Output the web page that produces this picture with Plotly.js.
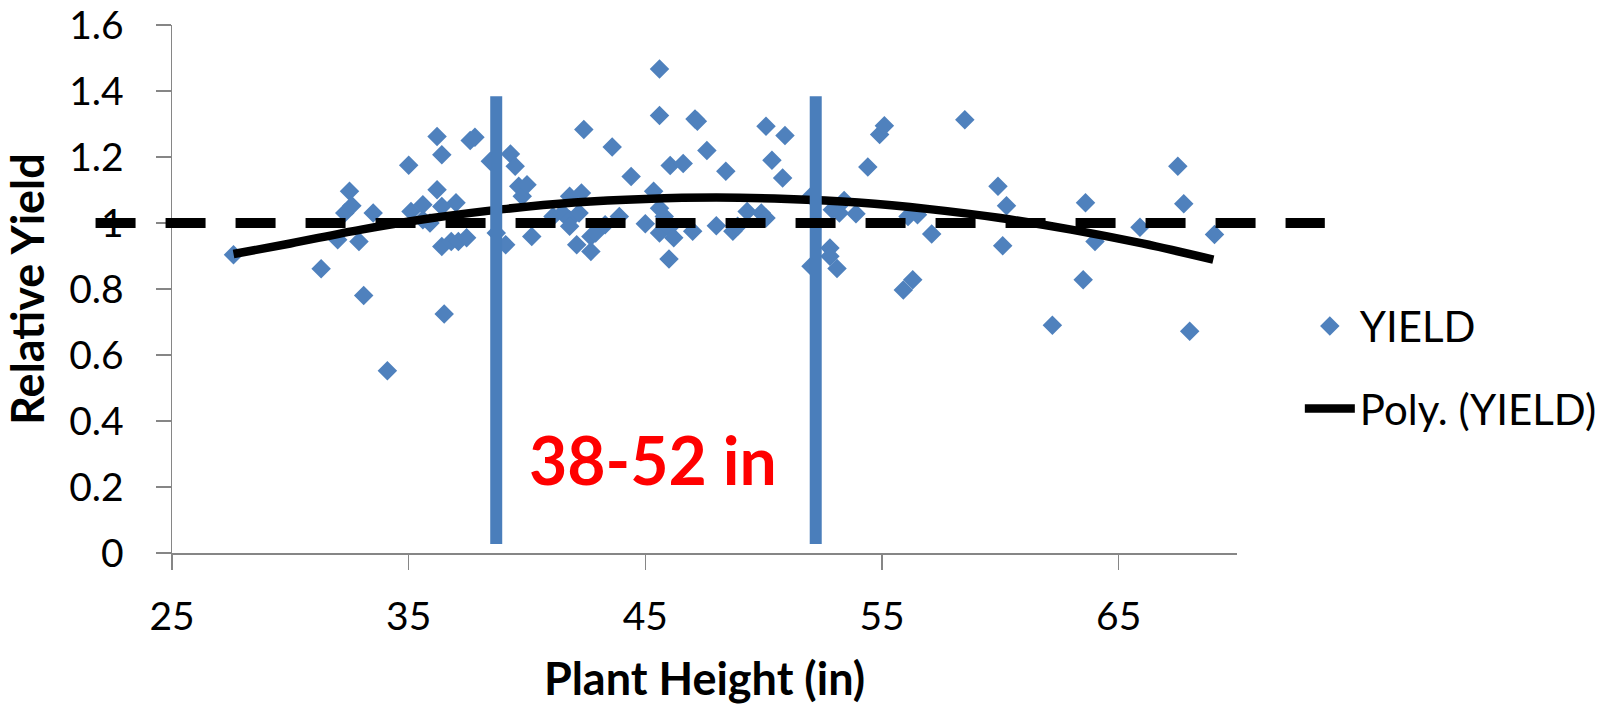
<!DOCTYPE html>
<html>
<head>
<meta charset="utf-8">
<script src="https://cdn.plot.ly/plotly-3.0.1.min.js"></script>
<style>
  html, body { margin: 0; padding: 0; background: #ffffff; }
  #chart { width: 1616px; height: 706px; }
</style>
</head>
<body>
<div id="chart"></div>
<script>
// Plant height (in) of each observation
const heightX = [
  27.6, 31.3, 32.0, 32.3, 32.5, 32.6, 32.9, 33.1, 33.5, 34.1,
  35.0, 35.1, 35.6, 35.6, 35.9, 36.2, 36.4, 36.2, 36.4, 36.4,
  36.5, 36.8, 37.0, 37.1, 37.45, 37.6, 37.8, 38.45, 38.7, 39.1,
  39.3, 39.5, 39.65, 39.8, 40.0, 40.2, 41.1, 41.5, 41.8, 41.8,
  41.8, 42.1, 42.2, 42.3, 42.4, 42.7, 42.7, 42.9, 43.3, 43.6,
  43.9, 44.4, 45.0, 45.35, 45.6, 45.6, 45.6, 45.6, 45.8, 46.0,
  46.0, 46.05, 46.2, 46.6, 47.0, 47.1, 47.2, 47.6, 48.0, 48.4,
  48.7, 48.9, 49.3, 49.9, 50.1, 50.1, 50.35, 50.8, 50.9, 52.0,
  52.0, 52.8, 52.8, 53.1, 52.9, 53.2, 53.4, 53.9, 54.4, 54.9,
  55.1, 55.9, 56.3, 56.1, 56.5, 57.1, 58.5, 59.9, 60.1, 60.26,
  62.2, 63.5, 63.6, 64.0, 65.9, 67.5, 67.75, 68.0, 69.05
];
// Relative yield of each observation
const yieldY = [
  0.904, 0.861, 0.949, 1.030, 1.096, 1.052, 0.944, 0.780, 1.030, 0.552,
  1.175, 1.035, 1.055, 1.010, 1.000, 1.262, 1.207, 1.101, 1.050, 0.929,
  0.724, 0.944, 1.061, 0.944, 0.955, 1.250, 1.260, 1.187, 0.970, 0.934,
  1.209, 1.172, 1.111, 1.081, 1.116, 0.959, 1.020, 1.030, 1.081, 1.010,
  0.990, 0.934, 1.030, 1.091, 1.283, 0.914, 0.959, 0.970, 0.995, 1.230,
  1.020, 1.141, 0.998, 1.096, 1.467, 1.326, 1.045, 0.970, 1.020, 0.985,
  0.891, 1.174, 0.955, 1.180, 0.975, 1.315, 1.308, 1.220, 0.992, 1.157,
  0.975, 0.990, 1.035, 1.030, 1.015, 1.293, 1.190, 1.136, 1.265, 1.081,
  0.869, 0.924, 0.899, 0.862, 1.040, 1.030, 1.068, 1.028, 1.170, 1.268,
  1.295, 0.797, 0.828, 1.020, 1.025, 0.967, 1.313, 1.111, 0.931, 1.052,
  0.690, 0.828, 1.061, 0.944, 0.987, 1.172, 1.058, 0.672, 0.965
];
// Polynomial trend line
const trendX = [27.6, 30, 33, 36, 39, 42, 45, 48, 51, 54, 57, 60, 63, 66, 69];
const trendY = [0.906, 0.938, 0.980, 1.015, 1.042, 1.062, 1.073, 1.077, 1.073, 1.062, 1.042, 1.015, 0.980, 0.938, 0.889];
// Range markers (in) and their vertical extent
const rangeLinesX = [38.7, 52.2];
const rangeLinesY = [0.027, 1.384];
// Reference level (relative yield = 1) and its horizontal extent in data units
const refLevel = 1;
const refLineX = [21.77, 73.71];
// Axis ranges and ticks
const xRange = [25, 70];
const yRange = [0, 1.6];
const xTickStart = 25, xTickStep = 10;
const yTickStep = 0.2;
const seriesName = 'YIELD';
const trendName = 'Poly. (YIELD)';
const rangeLabel = '38-52 in';
const rangeLabelPos = [45.33, 0.282];

const toPaperX = v => (v - xRange[0]) / (xRange[1] - xRange[0]);

const axisGray = '#868686';
const blue = '#4F81BD';
const font = 'Lato, "Open Sans", sans-serif';

const traces = [
  {
    x: heightX, y: yieldY, name: seriesName, type: 'scatter', mode: 'markers',
    marker: { symbol: 'diamond', size: 15, color: blue, line: { width: 0 } },
    legendgroup: 'a', hoverinfo: 'x+y'
  },
  {
    x: trendX, y: trendY, name: trendName, type: 'scatter', mode: 'lines',
    line: { color: '#000000', width: 8.5, shape: 'spline', smoothing: 1 },
    legendgroup: 'b', hoverinfo: 'skip'
  }
];

const shapes = rangeLinesX.map(xv => ({
  type: 'line', xref: 'x', yref: 'y', x0: xv, x1: xv,
  y0: rangeLinesY[0], y1: rangeLinesY[1],
  line: { color: '#4A7EBB', width: 12 }, layer: 'above'
}));
shapes.push({
  type: 'line', xref: 'paper', yref: 'y',
  x0: toPaperX(refLineX[0]), x1: toPaperX(refLineX[1]), y0: refLevel, y1: refLevel,
  line: { color: '#000000', width: 10, dash: '40px,30px' }, layer: 'above'
});

const layout = {
  width: 1616, height: 706,
  margin: { l: 172, r: 379, t: 25, b: 153, pad: 0 },
  paper_bgcolor: '#ffffff', plot_bgcolor: '#ffffff',
  showlegend: true,
  xaxis: {
    range: xRange, tick0: xTickStart, dtick: xTickStep,
    showgrid: false, zeroline: false,
    showline: true, linecolor: axisGray, linewidth: 1.5,
    ticks: 'outside', ticklen: 15, tickwidth: 1.5, tickcolor: axisGray,
    ticklabelstandoff: 14,
    tickfont: { family: font, size: 39, color: '#000000' },
    title: { text: 'Plant Height (in)', font: { family: font, size: 45, color: '#000000', weight: 700 }, standoff: 26 },
    fixedrange: true
  },
  yaxis: {
    range: yRange, dtick: yTickStep, tick0: 0,
    showgrid: false, zeroline: false,
    showline: true, linecolor: axisGray, linewidth: 1.5,
    ticks: 'outside', ticklen: 15, tickwidth: 1.5, tickcolor: axisGray,
    ticklabelstandoff: 24,
    tickfont: { family: font, size: 39, color: '#000000' },
    title: { text: 'Relative Yield', font: { family: font, size: 45, color: '#000000', weight: 700 }, standoff: 12 },
    fixedrange: true
  },
  legend: {
    x: 1.059, y: 0.494, xanchor: 'left', yanchor: 'top',
    font: { family: font, size: 42, color: '#000000' },
    itemwidth: 50, tracegroupgap: 25, bgcolor: 'rgba(0,0,0,0)', borderwidth: 0
  },
  shapes: shapes,
  annotations: [{
    x: rangeLabelPos[0], y: rangeLabelPos[1], xref: 'x', yref: 'y',
    text: rangeLabel, showarrow: false,
    font: { family: font, size: 66, color: '#FF0000', weight: 700 }
  }]
};

Plotly.newPlot('chart', traces, layout, { displayModeBar: false, staticPlot: true });
</script>
</body>
</html>
